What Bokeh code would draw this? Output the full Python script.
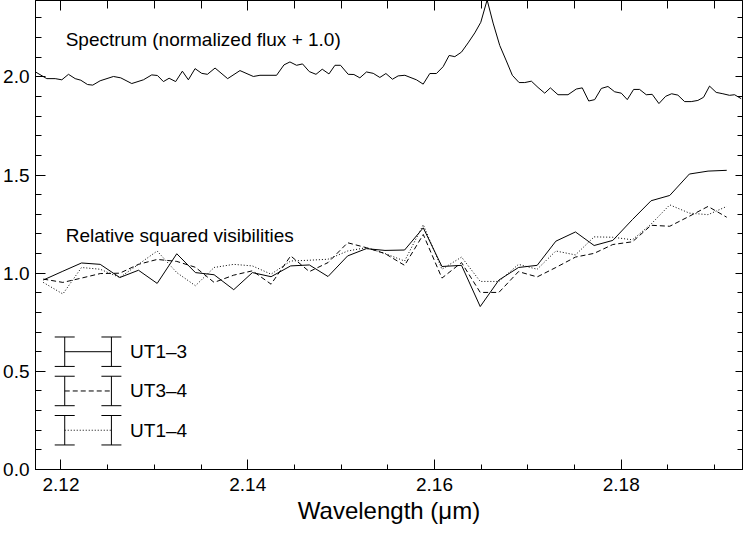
from bokeh.plotting import figure
from bokeh.models import Range1d, LinearAxis, SingleIntervalTicker, NumeralTickFormatter, CustomJSTickFormatter
from bokeh.core.properties import value
from bokeh.embed import file_html
from bokeh.resources import INLINE

# ---------------- data ----------------
spec_wl = [2.11727, 2.11848, 2.11938, 2.12009, 2.12080, 2.12152, 2.12212, 2.12284, 2.12340, 2.12419,
           2.12562, 2.12640, 2.12758, 2.12883, 2.12972, 2.13033, 2.13097, 2.13158, 2.13228, 2.13300,
           2.13364, 2.13436, 2.13507, 2.13568, 2.13650, 2.13785, 2.13917, 2.14060, 2.14131, 2.14309,
           2.14388, 2.14452, 2.14523, 2.14587, 2.14659, 2.14731, 2.14798, 2.14870, 2.14934, 2.14994,
           2.15076, 2.15137, 2.15201, 2.15272, 2.15344, 2.15415, 2.15480, 2.15550, 2.15611, 2.15683,
           2.15807, 2.15879, 2.15950, 2.16021, 2.16093, 2.16157, 2.16218, 2.16289, 2.16360, 2.16432,
           2.16496, 2.16564, 2.16628, 2.16699, 2.16770, 2.16834, 2.16906, 2.16967, 2.17038, 2.17109,
           2.17181, 2.17241, 2.17323, 2.17430, 2.17519, 2.17583, 2.17652, 2.17716, 2.17787, 2.17858,
           2.17930, 2.18001, 2.18065, 2.18133, 2.18197, 2.18268, 2.18332, 2.18404, 2.18476, 2.18540,
           2.18607, 2.18679, 2.18750, 2.18821, 2.18882, 2.18946, 2.19017, 2.19089, 2.19160, 2.19214,
           2.19285]
spec_flux = [2.025, 1.991, 1.991, 1.985, 2.013, 1.991, 1.983, 1.961, 1.958, 1.980,
             2.002, 1.995, 1.966, 1.985, 2.010, 2.007, 1.976, 1.993, 1.976, 2.029,
             1.985, 2.042, 2.018, 2.013, 2.045, 1.991, 2.032, 2.002, 2.008, 2.008,
             2.061, 2.076, 2.059, 2.066, 2.027, 2.013, 2.039, 2.015, 2.059, 2.059,
             2.013, 2.012, 1.995, 2.025, 2.018, 1.997, 2.017, 1.988, 2.005, 2.008,
             1.985, 1.963, 2.017, 2.017, 2.052, 2.109, 2.103, 2.126, 2.173, 2.224,
             2.278, 2.392, 2.274, 2.160, 2.081, 2.008, 1.971, 1.971, 1.978, 1.946,
             1.917, 1.944, 1.909, 1.909, 1.938, 1.944, 1.877, 1.884, 1.941, 1.951,
             1.924, 1.917, 1.884, 1.936, 1.936, 1.909, 1.911, 1.864, 1.901, 1.914,
             1.907, 1.874, 1.874, 1.880, 1.896, 1.953, 1.921, 1.914, 1.906, 1.909,
             1.889]

vis_wl = [2.1181, 2.1202, 2.1222, 2.1242, 2.1263, 2.1283, 2.1303, 2.1324, 2.1344, 2.1364,
          2.1385, 2.1405, 2.1425, 2.1446, 2.1466, 2.1486, 2.1507, 2.1527, 2.1547, 2.1568,
          2.1588, 2.1608, 2.1629, 2.1649, 2.1669, 2.1690, 2.1710, 2.1730, 2.1751, 2.1771,
          2.1791, 2.1812, 2.1832, 2.1852, 2.1873, 2.1893, 2.1913]
vis_ut13 = [0.965, 1.010, 1.052, 1.045, 0.978, 1.015, 0.948, 1.099, 1.003, 0.992,
            0.916, 1.003, 0.982, 1.037, 1.042, 0.983, 1.088, 1.125, 1.116, 1.118,
            1.231, 1.034, 1.040, 0.830, 0.965, 1.029, 1.040, 1.163, 1.210, 1.141,
            1.167, 1.273, 1.369, 1.396, 1.505, 1.520, 1.524]
vis_ut34 = [0.970, 0.953, 0.975, 0.998, 1.000, 1.045, 1.070, 1.060, 1.030, 0.953,
            0.990, 1.012, 0.944, 1.088, 1.008, 1.054, 1.155, 1.130, 1.100, 1.040,
            1.197, 0.975, 1.054, 0.902, 0.902, 1.008, 0.981, 1.029, 1.082, 1.101,
            1.146, 1.160, 1.244, 1.239, 1.290, 1.340, 1.285]
vis_ut14 = [0.953, 0.894, 1.029, 1.020, 0.978, 1.045, 1.113, 1.003, 0.936, 1.029,
            1.045, 1.037, 0.995, 1.062, 1.066, 1.071, 1.113, 1.130, 1.100, 1.062,
            1.247, 1.020, 1.082, 0.958, 0.958, 1.045, 1.020, 1.113, 1.093, 1.185,
            1.183, 1.170, 1.250, 1.348, 1.306, 1.298, 1.340]

legend_labels = ["UT1\u20133", "UT3\u20134", "UT1\u20134"]
legend_dashes = ["solid", "5 3", "1 2"]
legend_y = [0.6, 0.4, 0.2]

annotation_texts = ["Spectrum (normalized flux + 1.0)", "Relative squared visibilities"]
annotation_x = [2.1205, 2.1205]
annotation_y = [2.19, 1.19]

FONT = "Liberation Sans"

# ---------------- figure ----------------
p = figure(width=744, height=531, output_backend="svg", toolbar_location=None,
           x_range=Range1d(2.11727, 2.19299), y_range=Range1d(0.0, 2.389),
           min_border_left=34, min_border_right=2, min_border_top=0, min_border_bottom=62,
           x_axis_label="Wavelength (\u03bcm)")
p.grid.visible = False
p.outline_line_color = "black"
p.background_fill_color = "white"
p.border_fill_color = "white"

def style_axis(ax, major_in, minor_in, labels=True):
    ax.axis_line_color = "black"
    ax.axis_line_width = 1
    ax.major_tick_in = major_in
    ax.major_tick_out = 0
    ax.minor_tick_in = minor_in
    ax.minor_tick_out = 0
    ax.major_tick_line_color = "black"
    ax.minor_tick_line_color = "black"
    if labels:
        ax.major_label_text_font = FONT
        ax.major_label_text_font_size = "19px"
        ax.major_label_text_color = "black"
    else:
        ax.formatter = CustomJSTickFormatter(code="return ''")
        ax.major_label_text_font_size = "0px"
        ax.major_label_standoff = 0

xb = p.xaxis[0]
xb.ticker = SingleIntervalTicker(interval=0.02, num_minor_ticks=4)
xb.formatter = NumeralTickFormatter(format="0.00")
style_axis(xb, 10, 5)
xb.major_label_standoff = 8
xb.axis_label_text_font = FONT
xb.axis_label_text_font_size = "24px"
xb.axis_label_text_font_style = "normal"
xb.axis_label_text_color = "black"
xb.axis_label_standoff = 3

yl = p.yaxis[0]
yl.ticker = SingleIntervalTicker(interval=0.5, num_minor_ticks=5)
yl.formatter = NumeralTickFormatter(format="0.0")
style_axis(yl, 10, 6)
yl.major_label_standoff = 6

xt = LinearAxis(ticker=SingleIntervalTicker(interval=0.02, num_minor_ticks=4))
style_axis(xt, 10, 8, labels=False)
p.add_layout(xt, "above")

yr = LinearAxis(ticker=SingleIntervalTicker(interval=0.5, num_minor_ticks=5))
style_axis(yr, 7, 5, labels=False)
p.add_layout(yr, "right")

# spectrum
p.line(spec_wl, spec_flux, line_color="black", line_width=1)

# visibilities
p.line(vis_wl, vis_ut13, line_color="black", line_width=1)
p.line(vis_wl, vis_ut34, line_color="black", line_width=1, line_dash="5 3")
p.line(vis_wl, vis_ut14, line_color="black", line_width=1, line_dash="1 2")

# annotations
p.text(x=annotation_x, y=annotation_y, text=annotation_texts,
       text_font=value(FONT), text_font_size="19px", text_color="black",
       text_align="left", text_baseline="middle")

# legend drawn as error-bar symbols
lx0, lx1 = 2.1204, 2.1254
half_h, half_w = 0.075, 0.00107
for yv, lab, dash in zip(legend_y, legend_labels, legend_dashes):
    p.line([lx0, lx1], [yv, yv], line_color="black", line_width=1, line_dash=dash)
    p.segment(x0=[lx0, lx1], y0=[yv - half_h, yv - half_h], x1=[lx0, lx1], y1=[yv + half_h, yv + half_h],
              line_color="black", line_width=1)
    p.segment(x0=[lx0 - half_w, lx0 - half_w, lx1 - half_w, lx1 - half_w],
              y0=[yv - half_h, yv + half_h, yv - half_h, yv + half_h],
              x1=[lx0 + half_w, lx0 + half_w, lx1 + half_w, lx1 + half_w],
              y1=[yv - half_h, yv + half_h, yv - half_h, yv + half_h],
              line_color="black", line_width=1)
p.text(x=[2.1274] * 3, y=legend_y, text=legend_labels,
       text_font=value(FONT), text_font_size="19px", text_color="black",
       text_align="left", text_baseline="middle")

open("out.html", "w").write(file_html(p, INLINE))
